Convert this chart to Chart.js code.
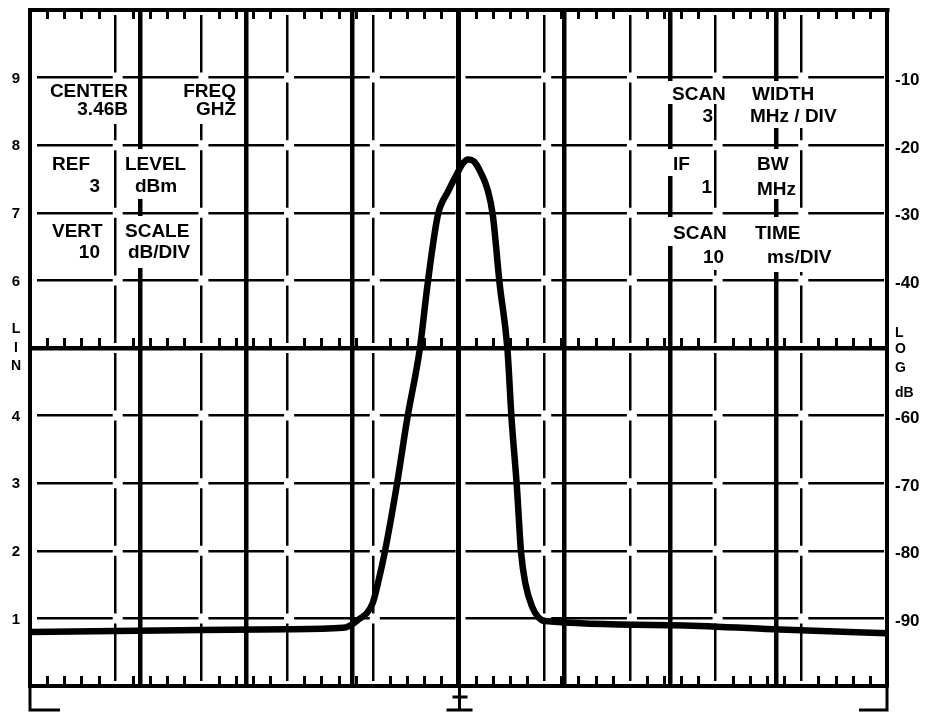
<!DOCTYPE html>
<html>
<head>
<meta charset="utf-8">
<script src="https://cdn.jsdelivr.net/npm/chart.js@4.4.1/dist/chart.umd.min.js"></script>
<style>
  html, body { margin: 0; padding: 0; background: #fff; }
  canvas { display: block; }
</style>
</head>
<body>
<canvas id="scan" width="934" height="713"></canvas>
<script>
// trace in graticule divisions (0..10 across, 0..10 up)
const freqDiv = [0, 1.5, 3.0, 3.65, 3.82, 4.00, 4.06, 4.14, 4.28, 4.40, 4.55, 4.64, 4.76, 4.88, 4.98, 5.05, 5.11,
  5.18, 5.25, 5.34, 5.40, 5.48, 5.57, 5.62, 5.68, 5.73, 5.78, 5.86, 5.93, 6.01, 7.50, 8.67, 10];
const levelDiv = [0.80, 0.82, 0.84, 0.86, 0.97, 1.23, 1.52, 1.98, 2.97, 3.94, 5.00, 5.95, 6.97, 7.32, 7.57, 7.73, 7.79,
  7.76, 7.62, 7.34, 6.97, 5.95, 5.00, 3.94, 2.97, 1.98, 1.52, 1.17, 1.02, 0.96, 0.90, 0.84, 0.78];

// tick labels by division (index = division)
const linLabels = [null, '1', '2', '3', '4', '', '6', '7', '8', '9', null];
const logLabels = [null, '-90', '-80', '-70', '-60', '', '-40', '-30', '-20', '-10', null];

// thick overlay lines (own scale, centred on the screen)
const markerLines = [-3, -2, -1, 0, 1, 2, 3];

// readout text on the screen
const readouts = [
  { t: 'CENTER', x: 128, y: 97, a: 'right' },
  { t: '3.46B', x: 128, y: 115, a: 'right' },
  { t: 'FREQ', x: 236, y: 97, a: 'right' },
  { t: 'GHZ', x: 236, y: 115, a: 'right' },
  { t: 'REF', x: 52, y: 170, a: 'left' },
  { t: '3', x: 100, y: 192, a: 'right' },
  { t: 'LEVEL', x: 125, y: 170, a: 'left' },
  { t: 'dBm', x: 135, y: 192, a: 'left' },
  { t: 'VERT', x: 52, y: 237, a: 'left' },
  { t: '10', x: 100, y: 258, a: 'right' },
  { t: 'SCALE', x: 125, y: 237, a: 'left' },
  { t: 'dB/DIV', x: 128, y: 258, a: 'left' },
  { t: 'SCAN', x: 672, y: 100, a: 'left' },
  { t: 'WIDTH', x: 752, y: 100, a: 'left' },
  { t: '3', x: 713, y: 122, a: 'right' },
  { t: 'MHz / DIV', x: 750, y: 122, a: 'left' },
  { t: 'IF', x: 673, y: 170, a: 'left' },
  { t: '1', x: 712, y: 193, a: 'right' },
  { t: 'BW', x: 757, y: 170, a: 'left' },
  { t: 'MHz', x: 757, y: 195, a: 'left' },
  { t: 'SCAN', x: 673, y: 239, a: 'left' },
  { t: '10', x: 703, y: 263, a: 'left' },
  { t: 'TIME', x: 755, y: 239, a: 'left' },
  { t: 'ms/DIV', x: 767, y: 263, a: 'left' },
];
// white patches behind the readouts: x1, y1, x2, y2
const patches = [
  [48, 81, 131, 124], [178, 81, 239, 124], [122, 149, 192, 199], [122, 216, 193, 268],
  [668, 81, 731, 104], [748, 81, 846, 128], [667, 149, 694, 176], [752, 149, 798, 199],
  [667, 217, 731, 246], [699, 246, 725, 270], [752, 217, 841, 272],
];

const W = 934, H = 713;
const LEFT_W = 30, RIGHT_W = 47, TOP_H = 10, BOTTOM_H = 27;
const GAP = 10;
const hPeriod = (W - LEFT_W - RIGHT_W) / 10;
const vPeriod = (H - TOP_H - BOTTOM_H) / 10;
const INK = '#000';
const NONE = 'rgba(0,0,0,0)';

Chart.defaults.font.family = '"Liberation Sans", Arial, sans-serif';
Chart.defaults.font.weight = 'bold';
Chart.defaults.color = INK;

const screenPlugin = {
  id: 'screen',
  beforeDatasetsDraw(chart) {
    const { ctx, chartArea: a, scales } = chart;
    const x = scales.x, y = scales.y;
    const mid = y.getPixelForValue(5);
    ctx.save();
    // small ticks along top edge, the LIN/LOG line and the bottom edge
    ctx.strokeStyle = INK;
    ctx.lineWidth = 3;
    ctx.beginPath();
    for (let k = 1; k < 50; k++) {
      if (k % 5 === 0) continue;
      const px = Math.round(x.getPixelForValue(k / 5)) + 0.5;
      ctx.moveTo(px, a.top); ctx.lineTo(px, a.top + 9);
      ctx.moveTo(px, mid); ctx.lineTo(px, mid - 10);
      ctx.moveTo(px, a.bottom); ctx.lineTo(px, a.bottom - 10);
    }
    ctx.stroke();
    // readouts
    ctx.fillStyle = '#fff';
    patches.forEach(p => ctx.fillRect(p[0], p[1], p[2] - p[0], p[3] - p[1]));
    ctx.fillStyle = INK;
    ctx.font = 'bold 19px "Liberation Sans", Arial, sans-serif';
    ctx.textBaseline = 'alphabetic';
    readouts.forEach(r => { ctx.textAlign = r.a; ctx.fillText(r.t, r.x, r.y); });
    // LIN / LOG dB side captions
    ctx.font = 'bold 14px "Liberation Sans", Arial, sans-serif';
    ctx.textAlign = 'center';
    ctx.textBaseline = 'middle';
    [['L', -19], ['I', 0], ['N', 18]].forEach(([s, d]) => ctx.fillText(s, 16, mid + d));
    ctx.textAlign = 'left';
    [['L', -15], ['O', 1], ['G', 20], ['dB', 45]].forEach(([s, d]) => ctx.fillText(s, a.right + 8, mid + d));
    ctx.restore();
  },
  afterDraw(chart) {
    const { ctx, chartArea: a, scales } = chart;
    const cx = Math.round(scales.x.getPixelForValue(5)) + 0.5;
    const yb = a.bottom + 24;
    ctx.save();
    ctx.strokeStyle = INK;
    ctx.lineWidth = 3;
    ctx.beginPath();
    ctx.moveTo(a.left, a.bottom); ctx.lineTo(a.left, yb); ctx.lineTo(a.left + 30, yb);
    ctx.moveTo(a.right, a.bottom); ctx.lineTo(a.right, yb); ctx.lineTo(a.right - 28, yb);
    ctx.moveTo(cx, a.bottom); ctx.lineTo(cx, yb);
    ctx.moveTo(cx - 7, a.bottom + 11); ctx.lineTo(cx + 8, a.bottom + 11);
    ctx.moveTo(cx - 13, yb); ctx.lineTo(cx + 13, yb);
    ctx.stroke();
    ctx.restore();
  },
};

const isEdge = v => v <= 0 || v >= 10;
const noPad = s => { s.paddingTop = 0; s.paddingBottom = 0; s.paddingLeft = 0; s.paddingRight = 0; };

new Chart(document.getElementById('scan').getContext('2d'), {
  type: 'line',
  data: {
    datasets: [{
      data: freqDiv.map((f, i) => ({ x: f, y: levelDiv[i] })),
      borderColor: INK,
      borderWidth: 6.5,
      borderCapStyle: 'round',
      borderJoinStyle: 'round',
      pointRadius: 0,
      cubicInterpolationMode: 'monotone',
      fill: false,
    }],
  },
  options: {
    responsive: false,
    animation: false,
    layout: { padding: 0, autoPadding: false },
    plugins: { legend: { display: false }, tooltip: { enabled: false } },
    scales: {
      x: {
        type: 'linear',
        position: 'bottom',
        min: 0,
        max: 10,
        afterFit(s) { s.height = BOTTOM_H; noPad(s); },
        ticks: { display: false, stepSize: 1 },
        grid: {
          drawTicks: false,
          lineWidth: 2.5,
          color: c => (c.tick && isEdge(c.tick.value) ? NONE : INK),
        },
        border: { display: true, color: INK, width: 4, dash: [vPeriod - GAP, GAP], dashOffset: vPeriod - GAP / 2 },
      },
      x2: {
        type: 'linear',
        position: 'top',
        min: -4.04,
        max: 4.04,
        afterFit(s) { s.height = TOP_H; noPad(s); },
        ticks: { display: false, stepSize: 1 },
        grid: {
          drawTicks: false,
          lineWidth: c => (c.tick && c.tick.value === 0 ? 5 : 4.5),
          color: c => (c.tick && markerLines.some(m => Math.abs(m - c.tick.value) < 1e-6) ? INK : NONE),
        },
        border: { display: true, color: INK, width: 4 },
      },
      y: {
        type: 'linear',
        position: 'left',
        min: 0,
        max: 10,
        afterFit(s) { s.width = LEFT_W; noPad(s); },
        ticks: {
          stepSize: 1,
          padding: 10,
          labelOffset: 1,
          font: { size: 15, weight: 'bold' },
          callback: v => linLabels[v],
        },
        grid: {
          drawTicks: false,
          lineWidth: c => (c.tick && c.tick.value === 5 ? 4.5 : 2.5),
          color: c => (c.tick && isEdge(c.tick.value) ? NONE : INK),
        },
        border: {
          display: true,
          color: INK,
          width: 4,
          dash: c => (c.tick && c.tick.value === 5 ? [] : [hPeriod - GAP, GAP]),
          dashOffset: hPeriod - GAP / 2,
        },
      },
      y2: {
        type: 'linear',
        position: 'right',
        min: 0,
        max: 10,
        afterFit(s) { s.width = RIGHT_W; noPad(s); },
        ticks: {
          stepSize: 1,
          padding: 8,
          labelOffset: 3,
          font: { size: 17, weight: 'bold' },
          callback: v => logLabels[v],
        },
        grid: { drawTicks: false, drawOnChartArea: false },
        border: { display: true, color: INK, width: 4 },
      },
    },
  },
  plugins: [screenPlugin],
});
</script>
</body>
</html>
